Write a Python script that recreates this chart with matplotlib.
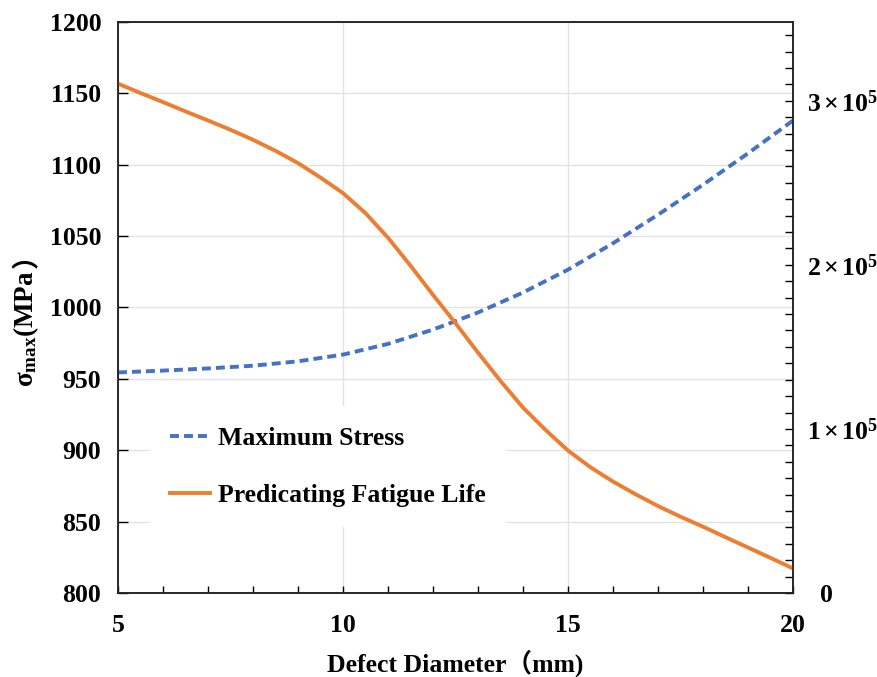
import matplotlib
matplotlib.use("Agg")
from matplotlib import pyplot, rcParams
from matplotlib.ticker import MultipleLocator, FixedLocator, FuncFormatter

# values
stress_diameter = [5, 6, 7, 8, 9, 10, 11, 12, 13, 14, 15, 16, 17, 18, 19, 20]
maximum_stress = [954.5, 955.8, 957.3, 959.2, 962.3, 967, 974.5, 984.5,
                  996.5, 1010.5, 1026.5, 1045, 1065, 1086, 1108, 1131]

life_diameter = [5, 5.5, 6, 6.5, 7, 7.5, 8, 8.5, 9, 9.5, 10, 10.5, 11, 11.5,
                 12, 12.5, 13, 13.5, 14, 14.5, 15, 15.5, 16, 16.5, 17, 17.5,
                 18, 18.5, 19, 19.5, 20]
fatigue_life = [3.104e5, 3.047e5, 2.992e5, 2.935e5, 2.880e5, 2.823e5,
                2.762e5, 2.695e5, 2.620e5, 2.532e5, 2.437e5, 2.315e5,
                2.165e5, 1.995e5, 1.817e5, 1.644e5, 1.465e5, 1.292e5,
                1.130e5, 0.994e5, 0.868e5, 0.766e5, 0.679e5, 0.602e5,
                0.530e5, 0.465e5, 0.404e5, 0.340e5, 0.277e5, 0.214e5,
                0.150e5]
life_ticks = [0, 1e5, 2e5, 3e5]

SERIF = "Liberation Serif"
rcParams.update({
    "font.family": [SERIF, "Noto Sans CJK SC"],
    "font.weight": "bold",
    "mathtext.fontset": "custom",
    "mathtext.rm": f"{SERIF}:bold",
    "mathtext.it": f"{SERIF}:bold",
    "mathtext.bf": f"{SERIF}:bold",
})

BLUE = "#4472C4"
ORANGE = "#ED7D31"
GRID = "#e3e3e3"
TICK_SIZE = 18.5

figure = pyplot.figure(figsize=(8.78, 6.77), dpi=100)
axes = figure.add_axes([0.1344, 0.1241, 0.7688, 0.8434])
life_axes = axes.twinx()

stress_line, = axes.plot(stress_diameter, maximum_stress, color=BLUE,
                         lw=2.8, dashes=(2.3, 1.3), label="Maximum Stress")
life_line, = life_axes.plot(life_diameter, fatigue_life, color=ORANGE,
                            lw=2.8, label="Predicating Fatigue Life")

axes.set_xlim(5, 20)
axes.set_ylim(800, 1200)
life_axes.set_ylim(0, 3.48e5)

axes.xaxis.set_major_locator(MultipleLocator(5))
axes.xaxis.set_minor_locator(MultipleLocator(1))
axes.yaxis.set_major_locator(MultipleLocator(50))
life_axes.yaxis.set_major_locator(FixedLocator(life_ticks))
life_axes.yaxis.set_minor_locator(MultipleLocator(1e4))


def life_label(value, _pos):
    if value == 0:
        return "  0"
    return r"$\mathbf{%d\,{\times}\,10^{5}}$" % round(value / 1e5)


life_axes.yaxis.set_major_formatter(FuncFormatter(life_label))

axes.grid(True, which="major", color=GRID, lw=1.0)
axes.set_axisbelow(True)

for ax in (axes, life_axes):
    for spine in ax.spines.values():
        spine.set_linewidth(1.1)
        spine.set_color("#222222")

axes.tick_params(axis="x", which="both", direction="in", length=5,
                 width=1.0, labelsize=TICK_SIZE, pad=15, top=False)
axes.tick_params(axis="y", which="major", direction="in", length=7,
                 width=1.0, labelsize=TICK_SIZE, pad=12)
life_axes.tick_params(axis="y", which="both", direction="in", length=6,
                      width=1.0, labelsize=TICK_SIZE, pad=10)

axes.set_xlabel("Defect Diameter（mm)", fontsize=18.5, fontweight="bold",
                labelpad=9)
y_label = axes.set_ylabel(r"$\sigma_{max}$(MPa", fontsize=19.5,
                          fontweight="bold", labelpad=6)
axes.yaxis.label.set_y(0.462)

legend = life_axes.legend(handles=[stress_line, life_line],
                          loc="upper left", bbox_to_anchor=(0.047, 0.3275),
                          borderaxespad=0, frameon=True, fancybox=False,
                          facecolor="white", edgecolor="none", framealpha=1,
                          prop={"family": SERIF, "weight": "bold",
                                "size": 18.5},
                          handlelength=1.56, handletextpad=0.3,
                          labelspacing=1.33, borderpad=0.8)

# full-width closing bracket of the y label, which the serif font lacks
figure.canvas.draw()
box = y_label.get_window_extent().transformed(figure.transFigure.inverted())
figure.text((box.x0 + box.x1) / 2, box.y1 + 0.004, "）", rotation=90,
            ha="center", va="bottom", fontsize=19.5,
            family="Noto Sans CJK SC", fontweight="bold")

pyplot.savefig("out.png", dpi=100)
pyplot.close()
